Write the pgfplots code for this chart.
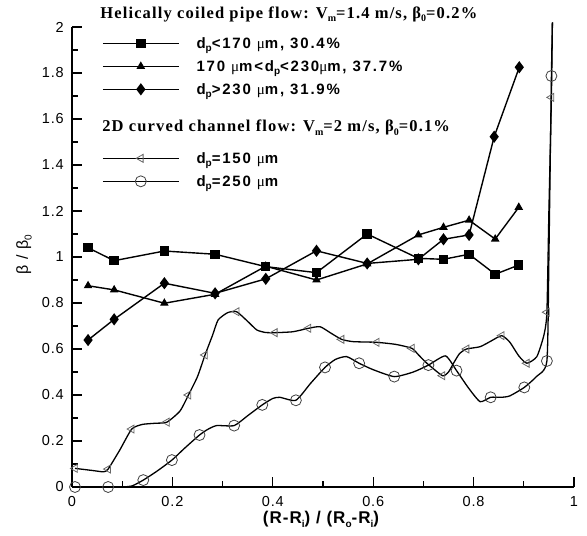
\documentclass[border=0pt]{standalone}
\usepackage{fontspec}
\setmainfont{Liberation Sans}[LetterSpace=6]
\newfontfamily\lgd{Liberation Sans}[LetterSpace=12]
\newfontfamily\tnr{Liberation Serif}[LetterSpace=7]
\usepackage{pgfplots}
\pgfplotsset{compat=1.18}

% lowered subscript in the current font
\newcommand\sub[1]{\raisebox{-0.45ex}{\fontsize{10}{10}\selectfont #1}}
\newcommand\mum{{\tnr\mdseries μ}m}

\pgfplotsset{
  sq/.style={black, line width=1.4pt, mark=square*, mark size=4pt},
  tri/.style={black, line width=1.4pt, mark=triangle*, mark size=3.6pt},
  dia/.style={black, line width=1.4pt, mark=diamond*, mark size=5pt},
  ltri/.style={black, line width=1.3pt, mark=triangle, mark size=4.6pt,
    mark options={rotate=90, black!60, line width=0.8pt}},
  circ/.style={black, line width=1.3pt, mark=o, mark size=5.5pt,
    mark options={black!75, line width=0.8pt}},
}

\begin{document}
\begin{tikzpicture}
\path[use as bounding box] (-72pt,-49pt) rectangle (515pt,487pt);
\begin{axis}[
  scale only axis, width=502pt, height=460pt,
  xmin=0, xmax=1, ymin=0, ymax=2,
  axis lines=left, axis line style={-, line width=1.6pt},
  tick align=inside,
  xtick={0,0.2,0.4,0.6,0.8,1}, minor x tick num=1,
  ytick={0,0.2,0.4,0.6,0.8,1,1.2,1.4,1.6,1.8,2}, minor y tick num=1,
  major tick length=10pt, minor tick length=6pt,
  tick style={line width=1.3pt, black},
  /pgf/number format/assume math mode=true,
  tick label style={font=\fontsize{14.5}{14.5}\selectfont},
  xticklabel style={anchor=base, yshift=-19.5pt},
  yticklabel style={anchor=east, inner sep=0pt, xshift=-8pt},
  xlabel={\bfseries (R-R\sub{i}) / (R\sub{o}-R\sub{i})},
  xlabel style={at={(axis cs:0.496,0)}, anchor=base, yshift=-36pt,
    font=\fontsize{17}{17}\selectfont},
  clip=false,
  legend style={at={(axis cs:0.06,1.979)}, anchor=north west,
    draw=none, fill=none, inner sep=0pt, outer sep=0pt, row sep=0pt,
    font=\lgd\bfseries\fontsize{15}{15}\selectfont,
    nodes={inner xsep=0pt, inner ysep=0pt, minimum height=23pt}},
  legend cell align=left,
  legend image code/.code={
    \draw[mark repeat=2, mark phase=2, #1]
      plot coordinates {(0pt,0pt) (38pt,0pt) (76pt,0pt)};
    \path (93pt,0pt);},
]

% helically coiled pipe flow
\addplot[sq, forget plot] coordinates {
  (0.032,1.040) (0.084,0.984) (0.184,1.026) (0.285,1.012) (0.386,0.958)
  (0.487,0.932) (0.588,1.100) (0.690,0.994) (0.740,0.990) (0.791,1.012)
  (0.843,0.925) (0.890,0.965)};
\addplot[tri, forget plot] coordinates {
  (0.032,0.875) (0.084,0.857) (0.184,0.799) (0.285,0.838) (0.386,0.960)
  (0.487,0.900) (0.588,0.970) (0.690,1.096) (0.740,1.129) (0.791,1.160)
  (0.843,1.078) (0.890,1.216)};
\addplot[dia, forget plot] coordinates {
  (0.032,0.639) (0.084,0.729) (0.184,0.886) (0.285,0.842) (0.386,0.905)
  (0.487,1.027) (0.588,0.972) (0.690,0.990) (0.740,1.077) (0.791,1.096)
  (0.841,1.523) (0.891,1.825)};

% 2D curved channel flow, d_p = 150 um: curve and sampled points
\addplot[black, line width=1.3pt, smooth, tension=0.35, forget plot] coordinates {
  (0.006,0.081) (0.040,0.072) (0.063,0.066) (0.072,0.078) (0.095,0.160)
  (0.119,0.252) (0.140,0.272) (0.165,0.277) (0.189,0.282) (0.215,0.330)
  (0.232,0.400) (0.250,0.480) (0.265,0.574) (0.280,0.660) (0.291,0.726)
  (0.310,0.758) (0.328,0.762) (0.350,0.720) (0.368,0.683) (0.385,0.672)
  (0.404,0.671) (0.440,0.675) (0.471,0.690) (0.494,0.697) (0.515,0.670)
  (0.537,0.642) (0.560,0.632) (0.607,0.629) (0.645,0.620) (0.677,0.603)
  (0.690,0.575) (0.707,0.538) (0.738,0.484) (0.750,0.500) (0.760,0.538)
  (0.772,0.580) (0.786,0.600) (0.813,0.610) (0.835,0.635) (0.856,0.658)
  (0.872,0.630) (0.890,0.570) (0.906,0.538) (0.926,0.567) (0.940,0.660)
  (0.946,0.760) (0.950,1.200) (0.955,1.694) (0.957,2.020)};
\addplot[ltri, only marks, forget plot] coordinates {
  (0.006,0.081) (0.072,0.078) (0.119,0.252) (0.189,0.282) (0.232,0.400)
  (0.265,0.574) (0.328,0.762) (0.404,0.671) (0.471,0.690) (0.537,0.642)
  (0.607,0.629) (0.677,0.603) (0.738,0.484) (0.786,0.600) (0.856,0.658)
  (0.906,0.538) (0.946,0.760) (0.955,1.694)};

% 2D curved channel flow, d_p = 250 um: curve and sampled points
\addplot[black, line width=1.3pt, smooth, tension=0.35, forget plot] coordinates {
  (0.006,0.000) (0.072,0.000) (0.100,0.000) (0.120,0.005) (0.142,0.030)
  (0.170,0.070) (0.199,0.117) (0.225,0.170) (0.254,0.226) (0.270,0.250)
  (0.288,0.267) (0.323,0.267) (0.350,0.310) (0.379,0.357) (0.400,0.385)
  (0.414,0.390) (0.446,0.377) (0.475,0.450) (0.504,0.520) (0.525,0.555)
  (0.547,0.567) (0.572,0.538) (0.600,0.510) (0.642,0.480) (0.680,0.500)
  (0.710,0.530) (0.744,0.570) (0.766,0.506) (0.790,0.430) (0.813,0.371)
  (0.834,0.390) (0.855,0.390) (0.872,0.396) (0.901,0.433) (0.925,0.480)
  (0.946,0.548) (0.950,1.000) (0.955,1.787) (0.957,2.020)};
\addplot[circ, only marks, forget plot] coordinates {
  (0.006,0.000) (0.072,0.000) (0.142,0.030) (0.199,0.117) (0.254,0.226)
  (0.323,0.267) (0.379,0.357) (0.446,0.377) (0.504,0.520) (0.572,0.538)
  (0.642,0.480) (0.710,0.530) (0.766,0.506) (0.834,0.390) (0.901,0.433)
  (0.946,0.548) (0.955,1.787)};

\addlegendimage{sq}\addlegendentry{d\sub{p}<170 \mum, 30.4\%}
\addlegendimage{tri}\addlegendentry{170 \mum<d\sub{p}<230\mum, 37.7\%}
\addlegendimage{dia}\addlegendentry{d\sub{p}>230 \mum, 31.9\%}
\addlegendimage{empty legend}\addlegendentry{}
\addlegendimage{empty legend}\addlegendentry{}
\addlegendimage{ltri}\addlegendentry{d\sub{p}=150 \mum}
\addlegendimage{circ}\addlegendentry{d\sub{p}=250 \mum}

% y-axis title, set vertically
\node[rotate=90, anchor=center, inner sep=0pt, font=\fontsize{16}{16}\selectfont]
  at (axis description cs:-0.0956,0.505) {β / β\sub{0}};

\node[anchor=base west, inner sep=0pt, font=\tnr\bfseries\fontsize{16.5}{16.5}\selectfont]
  at (axis cs:0.056,2.038) {Helically coiled pipe flow: V\sub{m}=1.4 m/s, β\sub{0}=0.2\%};
\node[anchor=base west, inner sep=0pt, font=\tnr\bfseries\fontsize{16.5}{16.5}\selectfont]
  at (axis cs:0.060,1.545) {2D curved channel flow: V\sub{m}=2 m/s, β\sub{0}=0.1\%};
\end{axis}
\end{tikzpicture}
\end{document}
